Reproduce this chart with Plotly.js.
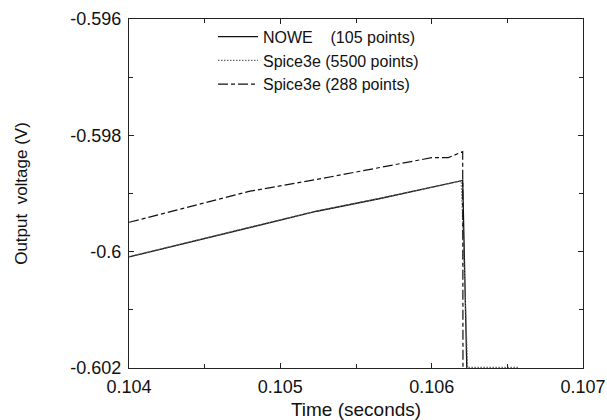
<!DOCTYPE html>
<html>
<head>
<meta charset="utf-8">
<script src="https://cdn.plot.ly/plotly-3.0.1.min.js"></script>
<style>html,body{margin:0;padding:0;background:#fff;}#chart{width:607px;height:420px;}</style>
</head>
<body>
<div id="chart"></div>
<script>
// NOWE (105 points)
const timeNowe = [0.104, 0.10458, 0.105241, 0.105659, 0.106188, 0.106205, 0.106233];
const voltNowe = [-0.600091, -0.599724, -0.599305, -0.599086, -0.598788, -0.598776, -0.6021];
// Spice3e (5500 points)
const timeSpice5500 = [0.104, 0.10458, 0.105241, 0.105659, 0.106195, 0.106238, 0.10657];
const voltSpice5500 = [-0.600085, -0.59972, -0.5993, -0.599082, -0.598785, -0.60199, -0.60199];
// Spice3e (288 points)
const timeSpice288 = [0.104, 0.104535, 0.1048, 0.105241, 0.105659, 0.106, 0.10611, 0.106205, 0.106207];
const voltSpice288 = [-0.599495, -0.599133, -0.59896, -0.598759, -0.598547, -0.598384, -0.598384, -0.598281, -0.6021];

const names = ["NOWE\u00a0\u00a0\u00a0\u00a0(105 points)", "Spice3e (5500 points)", "Spice3e (288 points)"];
const xTickVals = [0.104, 0.105, 0.106, 0.107];
const xTickText = ["0.104", "0.105", "0.106", "0.107"];
const yTickVals = [-0.602, -0.6, -0.598, -0.596];
const yTickText = ["-0.602", "-0.6", "-0.598", "-0.596"];

const font = "Liberation Sans, Arial, sans-serif";

const traces = [
  {x: timeNowe, y: voltNowe, name: names[0], mode: "lines",
   line: {color: "#111", width: 1.3, dash: "solid"}},
  {x: timeSpice5500, y: voltSpice5500, name: names[1], mode: "lines",
   line: {color: "#666", width: 1.1, dash: "1.5px,1.5px"}},
  {x: timeSpice288, y: voltSpice288, name: names[2], mode: "lines",
   line: {color: "#111", width: 1.2, dash: "10px,3px,4px,3px"}}
];

const axisCommon = {
  showgrid: false, zeroline: false, showline: true, mirror: "ticks",
  linecolor: "#222", linewidth: 1, ticks: "inside", ticklen: 5, tickcolor: "#222",
  tickfont: {family: font, size: 18, color: "#111"}
};

const layout = {
  width: 607, height: 420,
  margin: {l: 129, r: 24, t: 19, b: 52},
  paper_bgcolor: "#fff", plot_bgcolor: "#fff",
  showlegend: true,
  legend: {x: 0.185, y: 0.998, xanchor: "left", yanchor: "top",
           font: {family: font, size: 16, color: "#111"},
           bgcolor: "rgba(0,0,0,0)", borderwidth: 0, itemwidth: 40, tracegroupgap: 0},
  xaxis: Object.assign({}, axisCommon, {
    range: [0.104, 0.107], tickvals: xTickVals, ticktext: xTickText,
    ticklabelstandoff: 2,
    minor: {dtick: 0.0005, ticks: "inside", ticklen: 4, tickcolor: "#222"},
    title: {text: "Time (seconds)", font: {family: font, size: 19, color: "#111"}, standoff: 8}
  }),
  yaxis: Object.assign({}, axisCommon, {
    range: [-0.602, -0.596], tickvals: yTickVals, ticktext: yTickText,
    ticklabelstandoff: 3,
    minor: {dtick: 0.001, tick0: -0.602, ticks: "inside", ticklen: 4, tickcolor: "#222"},
    title: {text: "Output\u00a0 voltage (V)", font: {family: font, size: 17, color: "#111"}, standoff: 38}
  })
};

Plotly.newPlot("chart", traces, layout, {displayModeBar: false, staticPlot: true});
</script>
</body>
</html>
